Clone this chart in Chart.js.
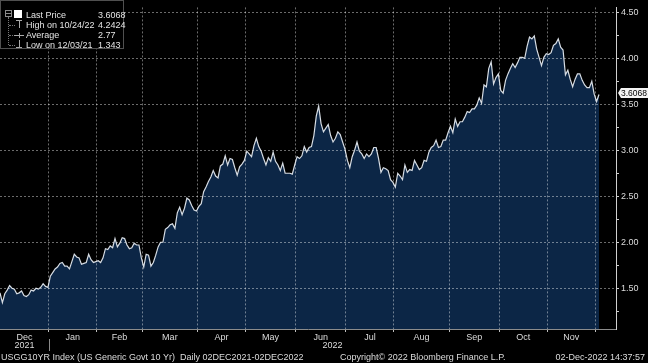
<!DOCTYPE html>
<html>
<head>
<meta charset="utf-8">
<script src="https://cdn.jsdelivr.net/npm/chart.js@4.4.0/dist/chart.umd.min.js"></script>
<style>
  html, body { margin: 0; padding: 0; background: #000; }
  #wrap { position: relative; width: 648px; height: 363px; overflow: hidden; background: #000;
          font-family: "Liberation Sans", Arial, sans-serif; color: #e4e4e4; }
  #chart { position: absolute; left: 0; top: 0; }
  /* legend box, top left */
  #legend { position: absolute; left: 0; top: 0; width: 122px; height: 47px; background: #000;
            border: 1px solid #505050; font-size: 9px; }
  #legend .row { position: absolute; left: 0; height: 10px; line-height: 10px; white-space: nowrap; }
  #legend .lbl { position: absolute; left: 25px; }
  #legend .val { position: absolute; left: 97px; }
  .ic { position: absolute; }
  #footer span { position: absolute; top: 352px; font-size: 9px; line-height: 11px; color: #dcdcdc; white-space: nowrap; }
</style>
</head>
<body>
<div id="wrap">
  <canvas id="chart" width="648" height="363"></canvas>
  <div id="legend">
    <!-- tree lines -->
    <div class="ic" style="left:4px;top:9px;width:5px;height:5px;border:1px solid #8a8a8a;"></div>
    <div class="ic" style="left:5px;top:12px;width:5px;height:1px;background:#8a8a8a;"></div>
    <div class="ic" style="left:7px;top:16px;width:1px;height:28px;border-left:1px dotted #777;"></div>
    <div class="ic" style="left:8px;top:24px;width:6px;height:1px;border-top:1px dotted #777;"></div>
    <div class="ic" style="left:8px;top:34px;width:6px;height:1px;border-top:1px dotted #777;"></div>
    <div class="ic" style="left:8px;top:44px;width:6px;height:1px;border-top:1px dotted #777;"></div>
    <!-- icons -->
    <div class="ic" style="left:13px;top:9px;width:8px;height:8px;background:#fff;"></div>
    <div class="ic" style="left:15px;top:19px;width:6px;height:1px;background:#aaa;"></div>
    <div class="ic" style="left:18px;top:19px;width:1px;height:8px;background:#aaa;"></div>
    <div class="ic" style="left:13px;top:34px;width:10px;height:1px;background:#aaa;"></div>
    <div class="ic" style="left:18px;top:32px;width:1px;height:5px;background:#aaa;"></div>
    <div class="ic" style="left:18px;top:39px;width:1px;height:7px;background:#aaa;"></div>
    <div class="ic" style="left:15px;top:46px;width:6px;height:1px;background:#aaa;"></div>
    <div class="row" style="top:9px"><span class="lbl">Last Price</span><span class="val" id="lastVal"></span></div>
    <div class="row" style="top:19px"><span class="lbl">High on 10/24/22</span><span class="val">4.2424</span></div>
    <div class="row" style="top:29px"><span class="lbl">Average</span><span class="val">2.77</span></div>
    <div class="row" style="top:39px"><span class="lbl">Low on 12/03/21</span><span class="val">1.343</span></div>
  </div>
  <div id="footer">
    <span style="left:1px">USGG10YR Index (US Generic Govt 10 Yr)&nbsp; Daily 02DEC2021-02DEC2022</span>
    <span style="left:340px">Copyright© 2022 Bloomberg Finance L.P.</span>
    <span style="right:3px">02-Dec-2022 14:37:57</span>
  </div>
</div>
<script>
// daily closes of USGG10YR, one array per month (trading days)
const dec21 = [1.45, 1.343, 1.44, 1.48, 1.53, 1.50, 1.49, 1.44, 1.45, 1.47, 1.42, 1.41, 1.43, 1.48, 1.47, 1.50, 1.49, 1.51, 1.55, 1.52, 1.51];
const jan22 = [1.63, 1.67, 1.71, 1.73, 1.77, 1.78, 1.74, 1.74, 1.71, 1.79, 1.87, 1.84, 1.83, 1.76, 1.77, 1.78, 1.87, 1.81, 1.78, 1.79];
const feb22 = [1.80, 1.78, 1.83, 1.93, 1.92, 1.96, 1.94, 2.04, 1.95, 1.99, 2.05, 2.04, 1.97, 1.93, 1.94, 1.99, 1.97, 1.97, 1.83];
const mar22 = [1.73, 1.87, 1.86, 1.74, 1.78, 1.86, 1.95, 2.00, 2.00, 2.14, 2.16, 2.19, 2.20, 2.15, 2.32, 2.38, 2.30, 2.37, 2.48, 2.46, 2.40, 2.35, 2.34];
const apr22 = [2.39, 2.42, 2.55, 2.60, 2.66, 2.71, 2.78, 2.72, 2.70, 2.83, 2.85, 2.94, 2.84, 2.91, 2.90, 2.81, 2.73, 2.82, 2.85, 2.89];
const may22 = [2.99, 2.96, 2.93, 3.05, 3.13, 3.04, 2.99, 2.91, 2.84, 2.92, 2.88, 2.98, 2.88, 2.84, 2.78, 2.86, 2.75, 2.75, 2.75, 2.74, 2.84];
const jun22 = [2.93, 2.91, 2.94, 3.04, 2.98, 3.03, 3.04, 3.16, 3.37, 3.48, 3.29, 3.20, 3.24, 3.28, 3.16, 3.09, 3.13, 3.20, 3.17, 3.09, 3.01];
const jul22 = [2.89, 2.81, 2.93, 3.00, 3.09, 2.99, 2.96, 2.91, 2.96, 2.93, 2.96, 3.03, 3.03, 2.91, 2.76, 2.81, 2.80, 2.78, 2.68, 2.65];
const aug22 = [2.60, 2.75, 2.72, 2.68, 2.84, 2.76, 2.79, 2.78, 2.89, 2.84, 2.79, 2.81, 2.89, 2.88, 2.98, 3.03, 3.05, 3.11, 3.03, 3.04, 3.11, 3.11, 3.19];
const sep22 = [3.26, 3.19, 3.34, 3.26, 3.31, 3.31, 3.36, 3.42, 3.41, 3.45, 3.45, 3.49, 3.57, 3.51, 3.71, 3.69, 3.89, 3.96, 3.72, 3.79, 3.83];
const oct22 = [3.65, 3.62, 3.76, 3.83, 3.89, 3.94, 3.90, 3.95, 4.01, 4.01, 4.00, 4.13, 4.23, 4.21, 4.2424, 4.10, 4.01, 3.92, 4.01, 4.05];
const nov22 = [4.04, 4.06, 4.14, 4.16, 4.21, 4.12, 4.09, 3.82, 3.87, 3.77, 3.69, 3.77, 3.83, 3.83, 3.76, 3.71, 3.68, 3.68, 3.75, 3.61];
const dec22 = [3.53, 3.6068];

const monthSeries = [dec21, jan22, feb22, mar22, apr22, may22, jun22, jul22, aug22, sep22, oct22, nov22, dec22];
const monthNames = ['Dec', 'Jan', 'Feb', 'Mar', 'Apr', 'May', 'Jun', 'Jul', 'Aug', 'Sep', 'Oct', 'Nov', ''];
const yearNames = ['2021', '2022'];
const yTicks = [1.25, 1.50, 1.75, 2.00, 2.25, 2.50, 2.75, 3.00, 3.25, 3.50, 3.75, 4.00, 4.25, 4.50];

const X_MAX = 257.1, Y_MIN = 1.057, Y_MAX = 4.553;
const FONT = '"Liberation Sans", Arial, sans-serif';

const yields = [].concat(...monthSeries);
const lastPrice = yields[yields.length - 1];
document.getElementById('lastVal').textContent = lastPrice.toFixed(4);

// month boundaries (grid lines) and label positions
const starts = [];
let n = 0;
monthSeries.forEach(function(m, i) { if (i > 0) starts.push(n - 0.6); n += m.length; });
const edges = [0].concat(starts);
const xTicks = [];
starts.forEach(function(s) { xTicks.push({ value: s, label: '', major: true }); });
monthNames.forEach(function(name, i) {
  if (!name) return;
  xTicks.push({ value: (edges[i] + edges[i + 1]) / 2, label: name, major: false });
});
xTicks.sort(function(a, b) { return a.value - b.value; });

function findX(v) {
  return xTicks.find(function(t) { return Math.abs(t.value - v) < 1e-6; });
}
function isMajorY(v) { return Math.abs(v * 2 - Math.round(v * 2)) < 1e-6; }

const gridCol = 'rgba(255,255,255,0.42)';

const extras = {
  id: 'extras',
  afterDraw(chart) {
    const c = chart.ctx, xs = chart.scales.x, ys = chart.scales.y;
    c.save();
    // year labels, centred on each year's part of the axis
    c.font = '9px ' + FONT;
    c.fillStyle = '#dcdcdc';
    c.textAlign = 'center';
    c.textBaseline = 'middle';
    const janX = xs.getPixelForValue(starts[0]);
    c.fillText(yearNames[0], (xs.left + janX) / 2, 346);
    c.fillText(yearNames[1], (janX + xs.right) / 2, 346);
    c.strokeStyle = '#8a8a8a';
    c.lineWidth = 1;
    c.beginPath();
    c.moveTo(Math.round(janX) + 0.5, 339);
    c.lineTo(Math.round(janX) + 0.5, 351);
    c.stroke();
    // last price tag on the right axis
    const py = ys.getPixelForValue(lastPrice) - 1.5;
    const x0 = ys.left + 2;
    c.fillStyle = '#f4f4f4';
    c.beginPath();
    c.moveTo(x0, py);
    c.lineTo(x0 + 3, py - 5);
    c.lineTo(648, py - 5);
    c.lineTo(648, py + 5);
    c.lineTo(x0 + 3, py + 5);
    c.closePath();
    c.fill();
    c.fillStyle = '#000';
    c.textAlign = 'left';
    c.font = '8.5px ' + FONT;
    c.fillText(lastPrice.toFixed(4), x0 + 3, py + 0.5);
    c.restore();
  }
};

new Chart(document.getElementById('chart'), {
  type: 'line',
  data: {
    datasets: [{
      data: yields.map(function(v, i) { return { x: i, y: v }; }),
      borderColor: '#d6dce3',
      borderWidth: 1.2,
      backgroundColor: '#0c2646',
      fill: 'start',
      pointRadius: 0,
      tension: 0
    }]
  },
  options: {
    responsive: false,
    animation: false,
    layout: { padding: 0 },
    plugins: { legend: { display: false }, tooltip: { enabled: false } },
    scales: {
      x: {
        type: 'linear', min: 0, max: X_MAX, bounds: 'data',
        afterBuildTicks: function(s) { s.ticks = xTicks.map(function(t) { return { value: t.value }; }); },
        afterFit: function(s) { s.height = 34; },
        ticks: {
          autoSkip: false, maxRotation: 0, padding: 0, color: '#dcdcdc',
          font: { family: FONT, size: 9 },
          callback: function(v) { const t = findX(v); return t ? t.label : ''; }
        },
        grid: {
          z: 1, tickLength: 3, lineWidth: 1,
          color: function(ctx) { const t = ctx.tick && findX(ctx.tick.value); return t && t.major ? gridCol : 'rgba(0,0,0,0)'; },
          tickColor: function(ctx) { const t = ctx.tick && findX(ctx.tick.value); return t && t.major ? '#bdbdbd' : 'rgba(0,0,0,0)'; }
        },
        border: { display: true, z: 1, color: '#8c8c8c', width: 1, dash: [2, 2] }
      },
      y: {
        position: 'right', min: Y_MIN, max: Y_MAX, bounds: 'data',
        afterBuildTicks: function(s) { s.ticks = yTicks.map(function(v) { return { value: v }; }); },
        afterFit: function(s) { s.width = 32; },
        ticks: {
          padding: 2, color: '#dcdcdc',
          font: { family: FONT, size: 9 },
          callback: function(v) { return isMajorY(v) ? v.toFixed(2) : ''; }
        },
        grid: {
          z: 1, tickLength: 3, lineWidth: 1,
          color: function(ctx) { return ctx.tick && isMajorY(ctx.tick.value) ? gridCol : 'rgba(0,0,0,0)'; },
          tickColor: '#cfcfcf'
        },
        border: { display: true, z: 1, color: '#d0d0d0', width: 1, dash: [2, 2] }
      }
    }
  },
  plugins: [extras]
});
</script>
</body>
</html>
